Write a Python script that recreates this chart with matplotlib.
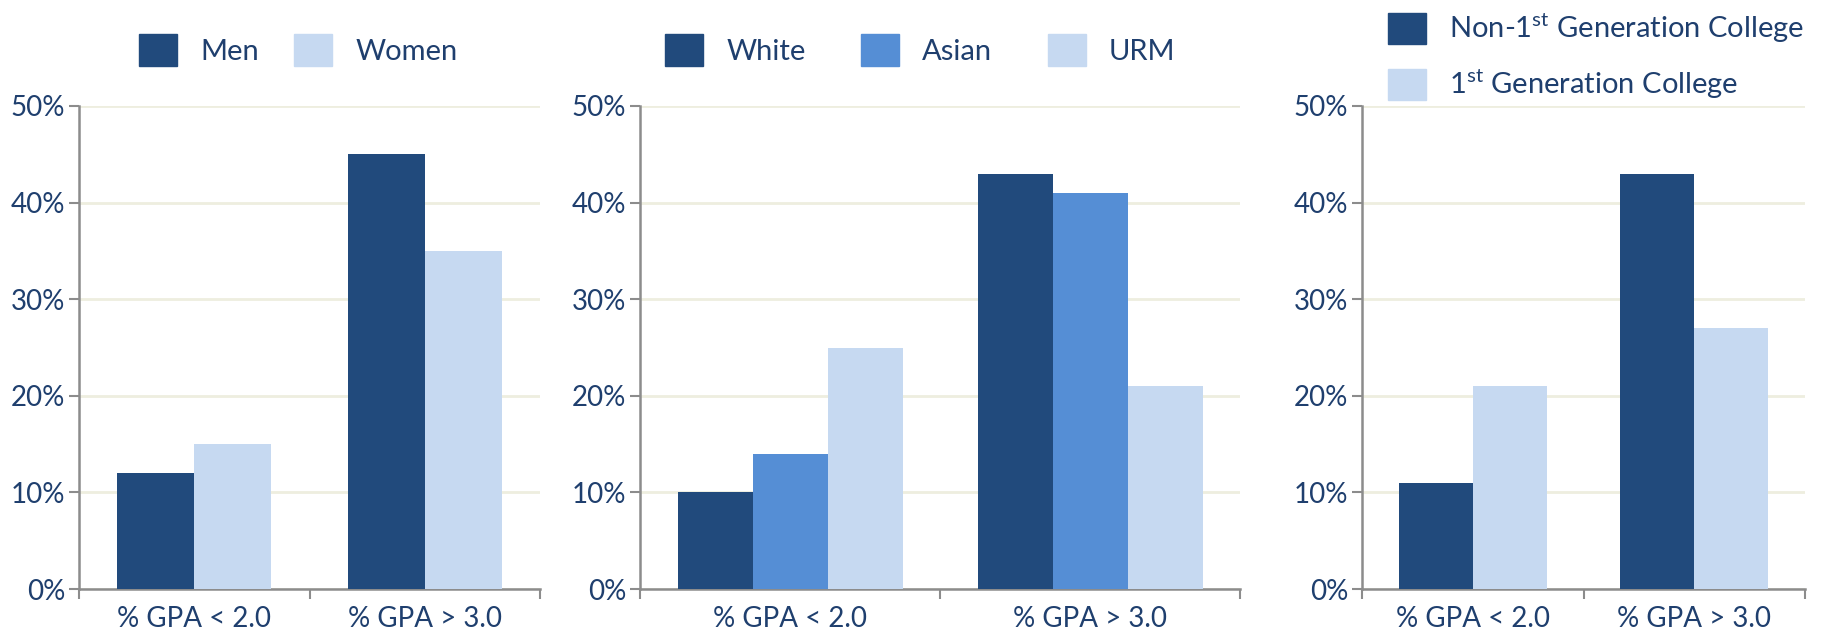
"""
GPA distribution by gender, race and first-generation status
"""
import matplotlib
matplotlib.use("Agg")
import matplotlib.pyplot as plt
from matplotlib.ticker import FixedLocator

# Data
categories = ["% GPA < 2.0", "% GPA > 3.0"]

gender_labels = ["Men", "Women"]
men = [12, 45]
women = [15, 35]

race_labels = ["White", "Asian", "URM"]
white = [10, 43]
asian = [14, 41]
urm = [25, 21]

firstgen_labels = ["Non-1$^{\\mathrm{st}}$ Generation College",
                   "1$^{\\mathrm{st}}$ Generation College"]
non_first_gen = [11, 43]
first_gen = [21, 27]

y_ticks = [0, 10, 20, 30, 40, 50]

DARK = "#214A7C"
MID = "#558ED5"
LIGHT = "#C6D9F1"
TEXT = "#1F3F6E"
GRID = "#EEEEDF"
SPINE = "#8C8C8C"

plt.rcParams["font.family"] = ["Lato", "DejaVu Sans"]
plt.rcParams["mathtext.fontset"] = "custom"
plt.rcParams["mathtext.rm"] = "Lato"


def draw_panel(ax, series, colors, width):
    """
    Draws one grouped bar panel with the shared styling.
    """
    n = len(series)
    for i, (vals, col) in enumerate(zip(series, colors)):
        xs = [c + 0.5 - width * n / 2 + width * (i + 0.5) for c in range(len(categories))]
        ax.bar(xs, vals, width=width, color=col, zorder=3)
    ax.set_xlim(0, len(categories))
    ax.set_ylim(0, 50)
    ax.set_yticks(y_ticks)
    ax.set_yticklabels([str(t) + "%" for t in y_ticks], color=TEXT, fontsize=20)
    ax.set_xticks([c + 0.5 for c in range(len(categories))])
    ax.set_xticklabels(categories, color=TEXT, fontsize=20)
    ax.tick_params(axis="x", which="major", length=0, pad=12)
    ax.xaxis.set_minor_locator(FixedLocator(range(len(categories) + 1)))
    ax.tick_params(axis="x", which="minor", length=7, width=1.5, color=SPINE, direction="out")
    ax.tick_params(axis="y", length=7, width=1.5, color=SPINE, direction="out", pad=3)
    ax.grid(axis="y", color=GRID, linewidth=2, zorder=0)
    ax.set_axisbelow(True)
    for side in ["top", "right"]:
        ax.spines[side].set_visible(False)
    for side in ["left", "bottom"]:
        ax.spines[side].set_color(SPINE)
        ax.spines[side].set_linewidth(1.8)


def add_legend(fig, labels, colors, anchor, ncol, colspacing, labelspacing=0.5):
    handles = [plt.Rectangle((0, 0), 1, 1, color=c) for c in colors]
    leg = fig.legend(handles, labels, loc="upper left", bbox_to_anchor=anchor, ncol=ncol,
                     frameon=False, fontsize=21, handlelength=1.3, handleheight=1.3,
                     handletextpad=0.8, columnspacing=colspacing, labelspacing=labelspacing,
                     borderaxespad=0, borderpad=0)
    for t in leg.get_texts():
        t.set_color(TEXT)
    return leg


fig = plt.figure(figsize=(18.29, 6.33), dpi=100)
bottom = 1 - 589 / 633
height = (589 - 106) / 633

ax1 = fig.add_axes([79 / 1829, bottom, (540 - 79) / 1829, height])
ax2 = fig.add_axes([640 / 1829, bottom, (1240 - 640) / 1829, height])
ax3 = fig.add_axes([1362 / 1829, bottom, (1805 - 1362) / 1829, height])

draw_panel(ax1, [men, women], [DARK, LIGHT], 1 / 3)
draw_panel(ax2, [white, asian, urm], [DARK, MID, LIGHT], 0.25)
draw_panel(ax3, [non_first_gen, first_gen], [DARK, LIGHT], 1 / 3)

add_legend(fig, gender_labels, [DARK, LIGHT], (139 / 1829, 1 - 34 / 633), 2, 1.2)
add_legend(fig, race_labels, [DARK, MID, LIGHT], (665 / 1829, 1 - 34 / 633), 3, 1.9)
add_legend(fig, firstgen_labels, [DARK, LIGHT], (1388 / 1829, 1 - 11 / 633), 1, 1.0, 0.75)

plt.savefig("out.png", dpi=100)
plt.close()
